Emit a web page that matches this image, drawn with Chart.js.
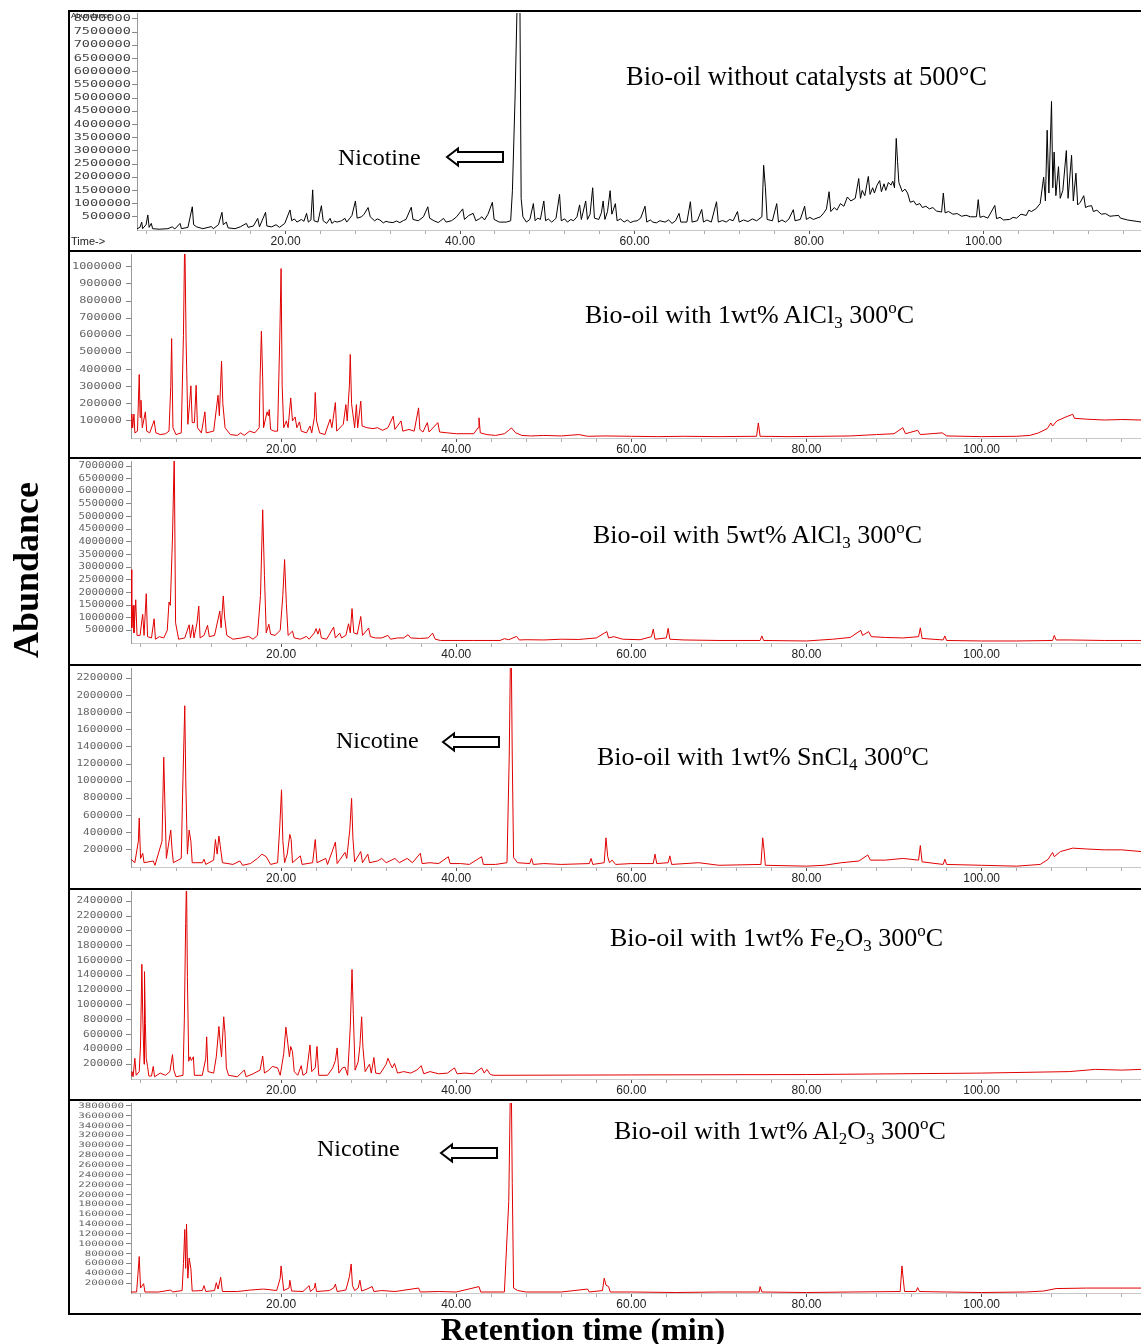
<!DOCTYPE html>
<html>
<head>
<meta charset="utf-8">
<script src="https://cdn.jsdelivr.net/npm/chart.js@4.4.0/dist/chart.umd.min.js"></script>
<style>
body{margin:0;background:#fff;width:1141px;height:1344px;position:relative;overflow:hidden;}
canvas{position:absolute;left:69px;}
.rule{position:absolute;background:#000;}
#ann{position:absolute;left:0;top:0;pointer-events:none;}
</style>
</head>
<body>
<canvas id="c1" width="1072" height="237" style="top:12px"></canvas>
<canvas id="c2" width="1072" height="205" style="top:252px"></canvas>
<canvas id="c3" width="1072" height="203" style="top:460px"></canvas>
<canvas id="c4" width="1072" height="221" style="top:666px"></canvas>
<canvas id="c5" width="1072" height="208" style="top:890px"></canvas>
<canvas id="c6" width="1072" height="211" style="top:1101px"></canvas>

<div class="rule" style="left:69px;top:10px;width:1072px;height:2px"></div>
<div class="rule" style="left:69px;top:250px;width:1072px;height:2px"></div>
<div class="rule" style="left:69px;top:457px;width:1072px;height:2px"></div>
<div class="rule" style="left:69px;top:664px;width:1072px;height:2px"></div>
<div class="rule" style="left:69px;top:888px;width:1072px;height:2px"></div>
<div class="rule" style="left:69px;top:1099px;width:1072px;height:2px"></div>
<div class="rule" style="left:69px;top:1313px;width:1072px;height:2px"></div>
<div class="rule" style="left:68px;top:10px;width:2px;height:1305px"></div>

<svg id="ann" width="1141" height="1344">
  <g font-family="Liberation Sans" fill="#222">
    <text x="71" y="18" font-size="8">Abundance</text>
    <text x="71" y="245" font-size="11">Time-&gt;</text>
  </g>
  <g font-family="Liberation Serif" fill="#000">
    <text x="626" y="85" font-size="26.5">Bio-oil without catalysts at 500°C</text>
    <text x="585" y="323" font-size="26">Bio-oil with 1wt% AlCl<tspan font-size="17" dy="5">3</tspan><tspan dy="-5"> 300</tspan><tspan font-size="17" dy="-10">o</tspan><tspan dy="10">C</tspan></text>
    <text x="593" y="543" font-size="26">Bio-oil with 5wt% AlCl<tspan font-size="17" dy="5">3</tspan><tspan dy="-5"> 300</tspan><tspan font-size="17" dy="-10">o</tspan><tspan dy="10">C</tspan></text>
    <text x="597" y="765" font-size="26">Bio-oil with 1wt% SnCl<tspan font-size="17" dy="5">4</tspan><tspan dy="-5"> 300</tspan><tspan font-size="17" dy="-10">o</tspan><tspan dy="10">C</tspan></text>
    <text x="610" y="946" font-size="26">Bio-oil with 1wt% Fe<tspan font-size="17" dy="5">2</tspan><tspan dy="-5">O</tspan><tspan font-size="17" dy="5">3</tspan><tspan dy="-5"> 300</tspan><tspan font-size="17" dy="-10">o</tspan><tspan dy="10">C</tspan></text>
    <text x="614" y="1139" font-size="26">Bio-oil with 1wt% Al<tspan font-size="17" dy="5">2</tspan><tspan dy="-5">O</tspan><tspan font-size="17" dy="5">3</tspan><tspan dy="-5"> 300</tspan><tspan font-size="17" dy="-10">o</tspan><tspan dy="10">C</tspan></text>
    <text x="338" y="165" font-size="24">Nicotine</text>
    <text x="336" y="748" font-size="24">Nicotine</text>
    <text x="317" y="1156" font-size="24">Nicotine</text>
    <text transform="translate(38,570) rotate(-90)" text-anchor="middle" font-size="36" font-weight="bold">Abundance</text>
    <text x="583" y="1340" text-anchor="middle" font-size="32" font-weight="bold">Retention time (min)</text>
  </g>
  <g fill="#fff" stroke="#000" stroke-width="2" stroke-linejoin="miter">
    <polygon points="447,157 458,148.5 458,152 503,152 503,162 458,162 458,165.5"/>
    <polygon points="443,742 454,733.5 454,737 499,737 499,747 454,747 454,750.5"/>
    <polygon points="441,1153 452,1144.5 452,1148 497,1148 497,1158 452,1158 452,1161.5"/>
  </g>
</svg>

<script>
// retention time (min), abundance (x1000 counts)
const p1Trace = [[2.96,50],[3.3,100],[3.5,300],[3.6,50],[4.0,200],[4.2,570],[4.35,100],[4.6,250],[4.75,50],[5.5,30],
  [6.5,50],[7.0,120],[7.3,40],[7.9,250],[8.05,50],[8.8,100],[9.3,880],[9.45,200],[9.8,120],[10.5,50],
  [11.5,130],[11.7,50],[12.3,200],[12.7,670],[12.85,200],[13.2,300],[13.4,80],[14.2,50],[14.8,120],[15.5,250],
  [15.7,100],[16.3,150],[16.8,440],[17.0,120],[17.7,670],[17.85,150],[18.4,120],[18.9,200],[19.3,100],[19.9,250],
  [20.5,760],[20.7,350],[21.0,420],[21.3,300],[21.8,400],[22.1,330],[22.4,630],[22.6,300],[22.9,380],[23.1,1520],
  [23.25,350],[23.7,300],[24.1,920],[24.3,350],[24.7,250],[25.1,440],[25.3,250],[25.6,330],[25.9,300],[26.4,350],
  [26.8,440],[27.0,300],[27.3,420],[27.6,550],[28.0,1100],[28.2,450],[28.7,500],[29.0,600],[29.45,850],[29.7,500],
  [30.2,350],[30.5,420],[30.8,380],[31.2,270],[31.5,330],[31.8,300],[32.3,280],[32.7,340],[33.1,280],[33.5,360],
  [33.8,400],[34.4,860],[34.6,400],[35.2,350],[35.8,500],[36.3,880],[36.5,450],[37.0,350],[37.5,280],[37.8,360],
  [38.1,440],[38.4,300],[39.0,350],[39.3,420],[39.6,500],[40.3,800],[40.5,400],[41.0,550],[41.5,630],[41.8,350],
  [42.2,420],[42.5,500],[42.8,380],[43.2,600],[43.7,1050],[43.9,400],[44.5,300],[45.3,300],[45.8,350],[46.0,1500],
  [46.3,5000],[46.6,9500],[46.85,9000],[47.0,1200],[47.2,500],[47.6,300],[48.0,400],[48.4,1000],[48.6,350],[48.9,450],
  [49.2,400],[49.6,1100],[49.8,350],[50.1,420],[50.5,300],[50.8,380],[51.0,450],[51.4,1350],[51.6,350],[52.0,420],
  [52.3,300],[52.7,400],[53.0,350],[53.4,500],[53.7,950],[53.9,400],[54.4,1100],[54.6,400],[54.9,600],[55.2,1600],
  [55.4,450],[55.9,400],[56.2,650],[56.4,1100],[56.6,400],[56.9,700],[57.2,1490],[57.4,600],[57.8,1000],[58.0,350],
  [58.4,420],[58.8,300],[59.2,380],[59.5,280],[59.9,330],[60.3,350],[60.7,450],[61.2,900],[61.4,300],[61.8,380],
  [62.1,300],[62.5,270],[62.9,350],[63.5,300],[63.9,380],[64.3,250],[64.7,350],[65.1,630],[65.3,300],[66.0,300],
  [66.4,1070],[66.6,300],[67.2,350],[67.7,780],[67.9,300],[68.3,380],[68.8,300],[69.4,1070],[69.6,300],[70.1,360],
  [70.5,300],[70.9,400],[71.3,350],[71.8,700],[72.0,300],[72.5,380],[73.0,320],[73.5,420],[74.0,350],[74.6,500],
  [74.8,2450],[75.0,1600],[75.2,400],[75.8,350],[76.3,1000],[76.5,300],[76.9,380],[77.3,300],[77.7,420],[78.2,770],
  [78.4,350],[79.0,400],[79.5,900],[79.7,400],[80.1,480],[80.5,400],[81.3,500],[81.7,650],[82.0,800],[82.3,1450],
  [82.5,700],[82.9,850],[83.2,750],[83.6,1000],[84.0,900],[84.4,1250],[84.8,1100],[85.3,1200],[85.7,1950],[85.9,1200],
  [86.1,1500],[86.4,1300],[86.8,2030],[87.0,1350],[87.3,1600],[87.5,1400],[87.8,1700],[88.1,1870],[88.3,1450],[88.6,1750],
  [88.8,1500],[89.1,1800],[89.4,1700],[89.6,1850],[89.8,1600],[90.0,3470],[90.15,2600],[90.3,1800],[90.7,1450],[91.0,1550],
  [91.3,1400],[91.6,1050],[92.0,1100],[92.3,950],[92.7,1000],[93.0,850],[93.4,900],[93.8,800],[94.2,850],[94.6,720],
  [95.2,680],[95.4,1400],[95.6,650],[96.0,700],[96.5,600],[97.0,620],[97.5,520],[98.0,560],[98.5,500],[99.2,500],
  [99.4,1150],[99.6,480],[100.0,520],[100.5,450],[101.3,930],[101.5,430],[101.9,480],[102.3,380],[103.0,400],[103.4,480],
  [103.8,450],[104.3,600],[104.9,550],[105.2,750],[105.5,700],[106.0,800],[106.5,1000],[106.9,2000],[107.1,1100],[107.3,3780],
  [107.5,1400],[107.8,4870],[107.95,1600],[108.1,2950],[108.3,1300],[108.6,2400],[108.8,1200],[109.1,1500],[109.5,3010],[109.7,1200],
  [110.1,2830],[110.3,1100],[110.6,2150],[110.8,950],[111.1,1050],[111.5,1300],[111.7,850],[112.0,900],[112.4,920],[112.6,700],
  [113.0,750],[113.5,600],[114.0,620],[114.5,520],[115.0,540],[115.5,550],[115.7,450],[116.5,380],[117.5,330],[118.1,300]];

const p2Trace = [[2.86,60],[2.95,140],[3.05,60],[3.2,140],[3.3,30],[3.6,40],[3.8,371],[3.9,120],[4.0,221],[4.15,60],
  [4.5,153],[4.65,40],[5.0,30],[5.5,102],[5.7,30],[6.2,20],[6.8,25],[7.2,40],[7.4,300],[7.5,581],
  [7.65,60],[8.0,20],[8.6,30],[8.85,600],[9.0,1200],[9.15,571],[9.35,80],[9.55,200],[9.7,305],[9.85,90],
  [10.1,90],[10.3,308],[10.45,60],[10.9,30],[11.3,153],[11.45,30],[12.3,40],[12.8,250],[12.95,130],[13.2,449],
  [13.35,200],[13.6,60],[14.2,20],[15.0,15],[15.4,30],[15.8,15],[16.4,40],[17.0,30],[17.5,60],[17.6,340],
  [17.75,624],[17.9,351],[18.0,60],[18.4,153],[18.55,130],[18.65,166],[18.8,50],[19.2,40],[19.6,40],[19.85,585],
  [20.0,990],[20.12,308],[20.3,60],[20.6,100],[20.8,60],[21.1,234],[21.3,100],[21.6,123],[21.8,60],[22.1,94],
  [22.3,40],[22.9,30],[23.3,70],[23.5,30],[23.8,120],[23.9,266],[24.05,100],[24.4,30],[25.0,20],[25.6,110],
  [25.8,60],[26.2,207],[26.35,40],[27.1,80],[27.4,195],[27.55,100],[27.8,308],[27.9,488],[28.05,200],[28.4,60],
  [28.6,195],[28.75,60],[29.1,215],[29.25,70],[29.8,60],[30.5,55],[31.0,60],[31.6,45],[32.2,60],[32.8,127],
  [33.0,50],[33.7,100],[33.9,40],[34.6,50],[35.2,40],[35.7,176],[35.85,50],[36.2,35],[36.7,90],[36.9,35],
  [37.9,90],[38.1,35],[39.0,30],[40.0,25],[41.0,25],[42.0,25],[42.5,60],[42.6,118],[42.75,30],[43.5,20],
  [44.5,15],[45.5,25],[46.0,45],[46.3,59],[46.8,30],[47.5,15],[48.5,12],[50,15],[52,12],[54,20],
  [55,10],[57,12],[60,10],[63,8],[66,10],[70,8],[74.3,10],[74.5,88],[74.7,10],[78,8],
  [82,10],[85,12],[88,20],[90,25],[91,60],[91.3,25],[92.7,45],[93,20],[95.5,30],[96,12],
  [100,8],[104,10],[105.5,15],[106.5,30],[107.5,55],[107.9,88],[108.1,70],[108.6,100],[109.5,120],[110.4,139],
  [110.6,115],[112,110],[114,105],[116,108],[118.2,105]];

const p3Trace = [[2.86,2900],[2.95,600],[3.1,1490],[3.2,400],[3.4,1710],[3.55,300],[3.9,300],[4.1,900],[4.2,1130],[4.35,300],
  [4.6,1950],[4.75,250],[5.2,200],[5.5,960],[5.65,150],[6.1,250],[6.6,200],[7.0,500],[7.2,1620],[7.35,1490],
  [7.6,4190],[7.8,7500],[7.95,800],[8.3,150],[9.0,200],[9.5,720],[9.65,200],[9.9,720],[10.05,200],[10.4,800],
  [10.6,1460],[10.75,200],[11.2,300],[11.6,700],[11.8,250],[12.4,300],[13.0,1260],[13.15,600],[13.4,1860],[13.55,1030],
  [13.8,300],[14.5,150],[15.5,200],[16.3,260],[16.8,150],[17.3,300],[17.65,1880],[17.9,5270],[18.1,2680],[18.3,400],
  [18.6,740],[18.8,350],[19.3,300],[19.9,500],[20.2,1880],[20.4,3300],[20.6,1560],[20.8,300],[21.3,470],[21.5,200],
  [22.2,150],[22.9,260],[23.2,150],[23.8,400],[24.0,570],[24.2,350],[24.4,570],[24.6,200],[25.2,150],[26.0,630],
  [26.2,200],[26.7,390],[26.9,200],[27.4,300],[27.7,760],[27.9,400],[28.1,1360],[28.3,400],[28.7,350],[29.1,1050],
  [29.3,300],[30.0,590],[30.2,250],[30.8,200],[31.5,200],[32.2,300],[32.5,150],[33.3,200],[34.0,200],[34.5,330],
  [34.8,200],[35.8,180],[36.8,200],[37.3,390],[37.6,150],[38.2,100],[42,100],[45,100],[45.5,170],[46,130],
  [46.9,260],[47.2,120],[48,130],[50,120],[52,150],[54,140],[56,200],[57.2,450],[57.4,200],[58,250],
  [59,150],[61,130],[62.3,250],[62.5,550],[62.7,150],[64.0,200],[64.2,580],[64.4,150],[66,120],[70,100],
  [74.7,100],[74.9,280],[75.1,100],[80,80],[83,150],[85,220],[86.2,500],[86.4,300],[87.1,450],[87.4,250],
  [89,220],[91,200],[92.8,250],[93.0,600],[93.2,180],[95.6,120],[95.8,280],[96.0,100],[100,80],[104,80],
  [108.1,100],[108.3,300],[108.5,120],[110,120],[114,100],[118.2,100]];

const p4Trace = [[2.86,90],[3.3,50],[3.7,300],[3.8,570],[3.95,100],[4.2,160],[4.35,50],[5.4,70],[5.6,20],[6.4,300],
  [6.6,1280],[6.75,650],[6.9,100],[7.4,430],[7.55,200],[7.7,50],[8.6,100],[8.75,840],[9.0,1880],[9.12,980],
  [9.3,150],[9.5,430],[9.7,300],[9.85,50],[11.0,50],[11.2,90],[11.4,30],[12.3,80],[12.5,320],[12.7,150],
  [12.9,360],[13.05,250],[13.3,50],[14.5,30],[15.3,70],[15.6,20],[16.5,40],[17.3,100],[17.8,150],[18.3,120],
  [18.8,30],[19.6,50],[19.85,470],[20.05,900],[20.2,310],[20.4,50],[20.7,150],[21.0,380],[21.15,320],[21.3,50],
  [22.2,130],[22.4,30],[23.6,50],[23.9,320],[24.1,50],[25.1,100],[25.3,30],[25.9,200],[26.2,290],[26.4,40],
  [27.3,170],[27.5,100],[27.85,440],[28.05,800],[28.2,340],[28.4,60],[29.1,180],[29.3,50],[29.9,150],[30.1,50],
  [31,70],[31.5,100],[32,50],[33,100],[33.5,50],[34.4,100],[35,50],[35.9,160],[36.1,40],[37,50],
  [38,40],[39.1,120],[39.3,40],[40.5,40],[41.5,30],[42.9,120],[43.1,30],[44.5,30],[45.8,50],[46.05,1270],
  [46.25,2900],[46.4,1270],[46.55,110],[47,50],[48.4,40],[48.6,100],[48.8,30],[50,40],[52,30],[55.2,40],
  [55.4,100],[55.6,30],[56.9,50],[57.1,340],[57.3,120],[57.5,50],[57.8,80],[58.2,30],[60,40],[62.5,40],
  [62.7,150],[62.9,40],[64.2,50],[64.4,130],[64.6,30],[67.7,50],[70,20],[74.8,30],[75.0,340],[75.15,200],
  [75.3,20],[80,10],[82,20],[84,50],[86,70],[87.0,140],[87.3,80],[89,80],[91,100],[92.8,80],
  [93.0,250],[93.2,60],[95.6,30],[95.8,90],[96,30],[100,20],[104,10],[106.7,30],[107.6,90],[108.1,170],
  [108.3,120],[109,180],[110.4,220],[112,210],[114,200],[116,200],[118.2,180]];

const p5Trace = [[2.86,50],[2.97,100],[3.1,30],[3.3,280],[3.45,50],[3.8,100],[3.95,460],[4.1,1550],[4.2,870],[4.35,200],
  [4.4,1450],[4.5,750],[4.6,280],[4.75,170],[4.9,40],[5.2,40],[5.4,170],[5.55,30],[6.2,80],[6.8,50],
  [7.3,100],[7.6,330],[7.75,120],[8.0,30],[8.8,50],[8.95,800],[9.1,2100],[9.2,2700],[9.3,1380],[9.45,240],
  [9.6,300],[9.75,250],[9.98,300],[10.1,50],[11.0,50],[11.4,280],[11.5,570],[11.65,100],[12.3,80],[12.6,300],
  [12.9,710],[13.05,480],[13.2,300],[13.45,840],[13.6,610],[13.75,150],[14.0,50],[15.0,30],[15.8,120],[16.0,30],
  [16.8,70],[17.6,120],[17.9,310],[18.1,80],[18.6,120],[19.0,170],[19.6,150],[19.9,50],[20.3,340],[20.55,700],
  [20.75,500],[20.95,300],[21.1,440],[21.3,370],[21.5,100],[21.9,50],[22.3,180],[22.5,50],[22.9,80],[23.3,460],
  [23.5,100],[23.9,150],[24.1,440],[24.3,50],[25.3,50],[25.9,150],[26.2,250],[26.4,420],[26.6,80],[27.0,150],
  [27.3,160],[27.6,50],[27.9,700],[28.1,1480],[28.25,870],[28.45,120],[28.8,230],[29.0,450],[29.2,840],[29.35,420],
  [29.6,100],[30.1,200],[30.3,80],[30.6,290],[30.8,80],[31.3,70],[32.0,200],[32.2,280],[32.45,210],[32.7,150],
  [32.95,210],[33.3,80],[34.0,100],[34.8,80],[35.5,120],[36.0,180],[36.3,70],[37,100],[38,70],[39.0,80],
  [39.8,150],[40.1,70],[41,80],[42,70],[42.9,150],[43.2,80],[43.5,130],[43.9,60],[44.3,50],[60,55],
  [80,60],[100,80],[110,100],[113,130],[116,120],[118.2,130]];

const p6Trace = [[2.86,20],[3.5,20],[3.65,370],[3.8,740],[3.95,100],[4.3,190],[4.45,20],[6,20],[7.4,60],[7.6,20],
  [8.7,50],[8.85,600],[9.0,1290],[9.1,500],[9.2,1400],[9.35,300],[9.5,710],[9.7,490],[9.85,40],[11.0,50],
  [11.2,150],[11.4,30],[12.4,50],[12.6,210],[12.8,80],[13.1,320],[13.3,30],[15,30],[16.5,60],[18,80],
  [19.5,50],[19.9,300],[20.0,550],[20.15,300],[20.3,50],[20.9,100],[21.0,260],[21.2,40],[22.5,30],[23.2,150],
  [23.35,30],[23.8,100],[23.9,200],[24.05,30],[25.5,50],[26.0,100],[26.2,180],[26.4,30],[27.4,60],[27.8,330],
  [28.0,590],[28.15,150],[28.4,50],[28.8,100],[29.0,260],[29.2,40],[29.8,80],[30.4,130],[30.6,30],[31.5,50],
  [33,30],[35.7,100],[35.9,20],[38,30],[40,20],[42.6,130],[42.8,20],[45.5,20],[46.0,1860],[46.25,5000],
  [46.4,2220],[46.55,100],[47,50],[48,20],[52,20],[55,80],[55.2,20],[56.7,50],[56.9,300],[57.1,160],
  [57.4,130],[57.6,20],[60,20],[65,10],[70,20],[74.6,20],[74.7,130],[74.9,20],[80,10],[85,20],
  [90.7,30],[90.9,550],[91.05,280],[91.2,30],[92.5,30],[92.7,110],[92.9,30],[96,20],[100,10],[105,20],
  [107.1,40],[108.5,90],[112,100],[115,100],[118.2,100]];

// axis ticks
const xMajor = [20, 40, 60, 80, 100];
const xMinor = [4, 8, 12, 16, 24, 28, 32, 36, 44, 48, 52, 56, 64, 68, 72, 76, 84, 88, 92, 96, 104, 108, 112, 116];
const p1YTicks = [500000, 1000000, 1500000, 2000000, 2500000, 3000000, 3500000, 4000000,
  4500000, 5000000, 5500000, 6000000, 6500000, 7000000, 7500000, 8000000];
const p2YTicks = [100000, 200000, 300000, 400000, 500000, 600000, 700000, 800000, 900000, 1000000];
const p3YTicks = [500000, 1000000, 1500000, 2000000, 2500000, 3000000, 3500000, 4000000,
  4500000, 5000000, 5500000, 6000000, 6500000, 7000000];
const p4YTicks = [200000, 400000, 600000, 800000, 1000000, 1200000, 1400000, 1600000, 1800000, 2000000, 2200000];
const p5YTicks = [200000, 400000, 600000, 800000, 1000000, 1200000, 1400000, 1600000, 1800000, 2000000, 2200000, 2400000];
const p6YTicks = [200000, 400000, 600000, 800000, 1000000, 1200000, 1400000, 1600000, 1800000, 2000000,
  2200000, 2400000, 2600000, 2800000, 3000000, 3200000, 3400000, 3600000, 3800000];

const xTicks = xMajor.concat(xMinor).sort((a, b) => a - b);

// the old instrument font is wide and flat, so the y labels are drawn stretched
const wideYLabels = {
  id: 'wideYLabels',
  afterDraw(chart, args, opts) {
    const sc = chart.scales.y;
    const c = chart.ctx;
    c.save();
    c.fillStyle = opts.color;
    c.font = opts.size + 'px "DejaVu Sans Mono"';
    c.textAlign = 'right';
    c.textBaseline = 'middle';
    sc.ticks.forEach(t => {
      c.save();
      c.translate(sc.right - opts.gap, sc.getPixelForValue(t.value));
      c.scale(opts.sx, 1);
      c.fillText(String(t.value), 0, 0);
      c.restore();
    });
    c.restore();
  }
};

function drawPanel(id, trace, color, yTicks, yMax, xMin, g) {
  const ctx = document.getElementById(id).getContext('2d');
  return new Chart(ctx, {
    type: 'line',
    data: {
      datasets: [{
        data: trace.map(p => ({x: p[0], y: p[1] * 1000})),
        borderColor: color,
        borderWidth: 1,
        pointRadius: 0,
        tension: 0
      }]
    },
    plugins: [wideYLabels],
    options: {
      responsive: false,
      animation: false,
      layout: {padding: {top: g.padTop, left: 0, right: 0, bottom: 0}},
      plugins: {
        legend: {display: false},
        tooltip: {enabled: false},
        wideYLabels: {size: g.ySize, sx: g.ySx, gap: g.yGap, color: g.yColor}
      },
      scales: {
        x: {
          type: 'linear',
          min: xMin,
          max: g.xMax,
          afterBuildTicks: s => { s.ticks = xTicks.map(v => ({value: v})); },
          afterFit: s => { s.height = g.xh; s.paddingLeft = 0; s.paddingRight = 0; },
          ticks: {
            autoSkip: false, maxRotation: 0, padding: 0,
            font: {family: 'Liberation Sans', size: 12},
            color: '#222',
            callback: v => xMajor.includes(v) ? v.toFixed(2) : ''
          },
          grid: {
            drawOnChartArea: false, drawTicks: true, tickLength: 4,
            color: c => (c.tick && xMajor.includes(c.tick.value)) ? '#555' : '#aaa'
          },
          border: {display: true, color: '#c8c8c8', width: 1}
        },
        y: {
          min: 0,
          max: yMax,
          afterBuildTicks: s => { s.ticks = yTicks.map(v => ({value: v})); },
          afterFit: s => { s.width = g.yw; s.paddingTop = 0; s.paddingBottom = 0; },
          ticks: {display: false, autoSkip: false},
          grid: {drawOnChartArea: false, drawTicks: true, tickLength: 5, color: '#888'},
          border: {display: true, color: '#999', width: 1}
        }
      }
    }
  });
}

drawPanel('c1', p1Trace, '#000', p1YTicks, 8220000, 2.96,
  {padTop: 1, xh: 19, yw: 68, xMax: 118.06, ySize: 8.5, ySx: 1.6, yGap: 6, yColor: '#444'});
drawPanel('c2', p2Trace, '#e00000', p2YTicks, 1075000, 2.86,
  {padTop: 2, xh: 19, yw: 62, xMax: 118.2, ySize: 8, ySx: 1.48, yGap: 9, yColor: '#666'});
drawPanel('c3', p3Trace, '#e00000', p3YTicks, 7200000, 2.86,
  {padTop: 1, xh: 20, yw: 62, xMax: 118.2, ySize: 8, ySx: 1.35, yGap: 7, yColor: '#666'});
drawPanel('c4', p4Trace, '#e00000', p4YTicks, 2320000, 2.86,
  {padTop: 2, xh: 20, yw: 62, xMax: 118.2, ySize: 8, ySx: 1.38, yGap: 8, yColor: '#666'});
drawPanel('c5', p5Trace, '#e00000', p5YTicks, 2540000, 2.86,
  {padTop: 1, xh: 19, yw: 62, xMax: 118.2, ySize: 8, ySx: 1.38, yGap: 8, yColor: '#666'});
drawPanel('c6', p6Trace, '#e00000', p6YTicks, 3860000, 2.86,
  {padTop: 2, xh: 19, yw: 62, xMax: 118.2, ySize: 7.5, ySx: 1.45, yGap: 7, yColor: '#666'});
</script>
</body>
</html>
